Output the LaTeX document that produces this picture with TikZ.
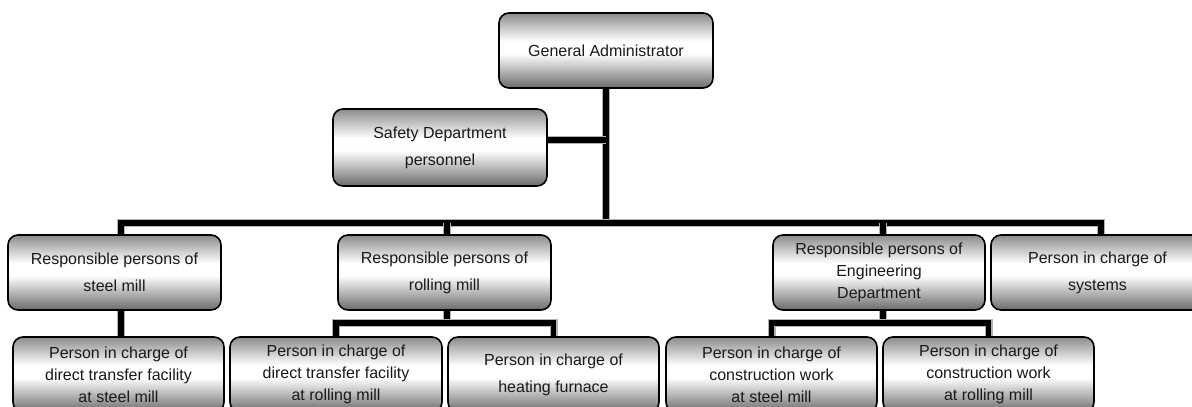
\documentclass[tikz,border=0pt]{standalone}
\usepackage{fontspec}
\setmainfont{Liberation Sans}
\usetikzlibrary{backgrounds,calc}
\pgfdeclareverticalshading{boxshade}{100bp}{color(0bp)=(black!58); color(25bp)=(black!58); color(48bp)=(white); color(56bp)=(white); color(75bp)=(black!45); color(100bp)=(black!45)}
\tikzset{
  box/.style={draw=black, line width=1.6pt, rounded corners=10pt, shading=boxshade,
    minimum height=75pt, align=center, inner sep=2pt, text=black!90,
    font=\fontsize{16}{27}\selectfont},
  box3/.style={box, font=\fontsize{16}{22}\selectfont},
  conn/.style={line width=5.5pt, black, line join=miter,
    preaction={draw=black!30, line width=8pt}},
}
\begin{document}
\begin{tikzpicture}[x=1pt,y=-1pt]
\useasboundingbox (0,0) rectangle (1192,407);
\clip (0,0) rectangle (1192,407);
% top
\node[box, minimum width=214pt] (ga) at (606,50.5) {General Administrator};
\node[box, minimum width=214pt, minimum height=77pt] (safety) at (440,147.5) {Safety Department\\personnel};
% level 2
\node[box, minimum width=213pt] (steel) at (114.5,272.5) {Responsible persons of\\steel mill};
\node[box, minimum width=213pt] (rolling) at (444.5,272.5) {Responsible persons of\\rolling mill};
\node[box3, minimum width=212pt] (eng) at (879,272.5) {Responsible persons of\\Engineering\\Department};
\node[box, minimum width=213pt] (sys) at (1097.5,272.5) {Person in charge of\\systems};
% level 3
\node[box3, minimum width=211pt] (sdt) at (118.5,374.5) {Person in charge of\\direct transfer facility\\at steel mill};
\node[box3, minimum width=212pt] (rdt) at (336,374.5) {Person in charge of\\direct transfer facility\\at rolling mill};
\node[box, minimum width=211pt] (heat) at (553.5,374.5) {Person in charge of\\heating furnace};
\node[box3, minimum width=211pt] (cs) at (771.5,374.5) {Person in charge of\\construction work\\at steel mill};
\node[box3, minimum width=211pt] (cr) at (988.5,374.5) {Person in charge of\\construction work\\at rolling mill};
% helper coordinates
\coordinate (busy) at (0,223);
\coordinate (suby) at (0,323);
\coordinate (dsteel) at ([xshift=6.5pt]steel.north);
\coordinate (dsteels) at ([xshift=6.5pt]steel.south);
\coordinate (droll) at ([xshift=2.5pt]rolling.north);
\coordinate (drolls) at ([xshift=2.5pt]rolling.south);
\coordinate (deng) at ([xshift=4pt]eng.north);
\coordinate (dengs) at ([xshift=4pt]eng.south);
\coordinate (dsys) at ([xshift=3.5pt]sys.north);
\coordinate (dsafe) at ([yshift=7.5pt]safety.east);
\begin{pgfonlayer}{background}
\draw[conn] (ga.south) -- (ga.south |- busy);
\draw[conn] (dsafe) -- (dsafe -| ga.south);
\draw[conn] (dsteel) -- (dsteel |- busy) -- (dsys |- busy) -- (dsys);
\draw[conn] (droll) -- (droll |- busy);
\draw[conn] (deng) -- (deng |- busy);
\draw[conn] (dsteels) -- (dsteels |- sdt.north);
\draw[conn] (drolls) -- (drolls |- suby);
\draw[conn] (rdt.north) -- (rdt.north |- suby) -- (heat.north |- suby) -- (heat.north);
\draw[conn] (dengs) -- (dengs |- suby);
\draw[conn] (cs.north) -- (cs.north |- suby) -- (cr.north |- suby) -- (cr.north);
\end{pgfonlayer}
\end{tikzpicture}
\end{document}
